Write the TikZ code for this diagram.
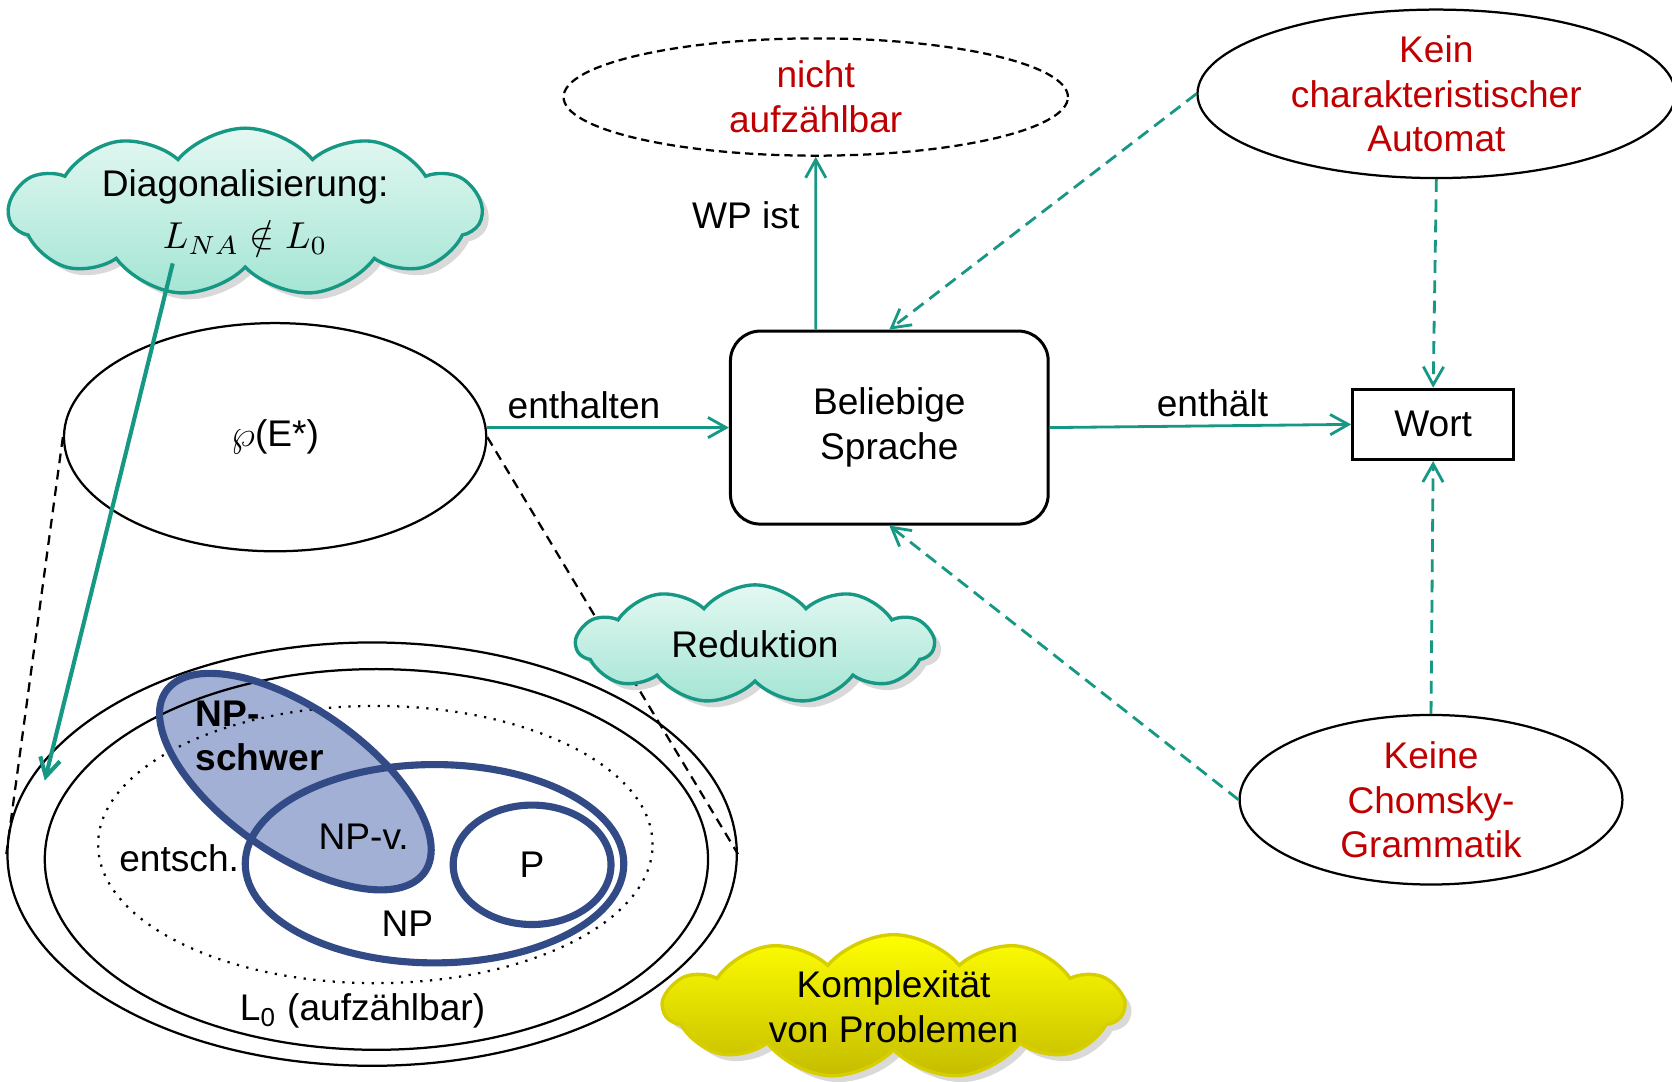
\documentclass[tikz,border=0pt]{standalone}
\usepackage[no-math]{fontspec}
\setmainfont{Liberation Sans}
\usetikzlibrary{arrows.meta,shapes.geometric,shapes.symbols,shadows}
\definecolor{tuerkis}{RGB}{22,152,132}
\definecolor{dunkelrot}{RGB}{192,0,0}
\definecolor{npblau}{RGB}{50,74,134}
\definecolor{npfuell}{RGB}{163,176,214}
\definecolor{wolkehell}{RGB}{228,248,242}
\definecolor{wolkedunkel}{RGB}{164,229,212}
\definecolor{gelbhell}{RGB}{255,255,0}
\definecolor{gelbdunkel}{RGB}{196,188,0}
\definecolor{gelbrand}{RGB}{214,206,0}
\newcommand{\schrift}{\fontsize{9.9}{11.9}\selectfont}

\begin{document}
\begin{tikzpicture}[x=1cm,y=-1cm,>={Straight Barb[length=1.7mm,width=1.9mm]},
	font=\schrift,
	pfeil/.style={->,color=tuerkis,line width=0.75pt},
	strichpfeil/.style={pfeil,dash pattern=on 3.4pt off 2pt},
	beschriftung/.style={text=black,inner sep=2pt},
	menge/.style={ellipse,draw,line width=0.6pt,inner sep=0pt},
	klasse/.style={ellipse,draw=npblau,line width=1.9pt,inner sep=0pt},
	kasten/.style={draw,line width=0.8pt,align=center,inner sep=0pt},
	wolke/.style={cloud,cloud puffs=11,cloud puff arc=100,cloud ignores aspect,draw=tuerkis,line width=0.9pt,
		top color=wolkehell,bottom color=wolkedunkel,align=center,inner sep=0pt,
		drop shadow={opacity=0.3,shadow xshift=0.6mm,shadow yshift=-0.6mm}},
	rot/.style={text=dunkelrot,align=center}]
	
	\useasboundingbox (0,0) rectangle (15.68,10.14);
	
	\node[menge,dash pattern=on 2.2pt off 1.3pt,rot,minimum width=4.73cm,minimum height=1.10cm] (nicht) at (7.65,0.91) {nicht\\aufzählbar};
	\node[menge,rot,minimum width=4.48cm,minimum height=1.58cm] (kein) at (13.47,0.88) {Kein\\charakteristischer\\Automat};
	\node[menge,rot,minimum width=3.59cm,minimum height=1.59cm] (keine) at (13.42,7.50) {Keine\\Chomsky-\\Grammatik};
	\node[kasten,rounded corners=0.28cm,minimum width=2.98cm,minimum height=1.81cm] (sprache) at (8.34,4.01) {Beliebige\\Sprache};
	\node[kasten,minimum width=1.51cm,minimum height=0.66cm] (wort) at (13.44,3.98) {Wort};
	\node[menge,minimum width=3.96cm,minimum height=2.14cm] (pot) at (2.58,4.10) {$\wp$(E*)};
	
	\node[ellipse,fill=npfuell,rotate=-35,minimum width=2.96cm,minimum height=1.36cm] (npsfuell) at (2.77,7.33) {};
	\node[menge,minimum width=6.84cm,minimum height=3.97cm] (aussen) at (3.49,8.01) {};
	\node[menge,minimum width=6.22cm,minimum height=3.57cm] (lnull) at (3.53,8.06) {};
	\node[menge,dotted,minimum width=5.20cm,minimum height=2.60cm] (entsch) at (3.52,7.92) {};
	\node[klasse,minimum width=3.55cm,minimum height=1.86cm] (np) at (4.075,8.10) {};
	\node[klasse,minimum width=1.48cm,minimum height=1.12cm] (p) at (4.99,8.11) {P};
	\node[klasse,rotate=-35,minimum width=2.96cm,minimum height=1.36cm] (nps) at (2.77,7.33) {};
	
	\node[anchor=west,align=left,font=\schrift\bfseries] (npstext) at (1.71,6.90) {NP-\\schwer};
	\node (npv) at (3.41,7.85) {NP-v.};
	\node (entschtext) at (1.68,8.05) {entsch.};
	\node (nptext) at (3.82,8.66) {NP};
	\node (lnulltext) at (3.40,9.48) {L\textsubscript{0} (aufzählbar)};
	
	\draw[dash pattern=on 2.6pt off 1.8pt,line width=0.6pt] (pot.west) -- (aussen.west);
	\draw[dash pattern=on 2.6pt off 1.8pt,line width=0.6pt] (pot.east) -- (aussen.east);
	
	\node[wolke,minimum width=4.43cm,minimum height=1.42cm] (diag) at (2.30,1.99) {Diagonalisierung:\\[2pt]$L_{NA}\notin L_0$};
	\node[wolke,minimum width=3.35cm,minimum height=1.11cm] (reduktion) at (7.08,6.04) {Reduktion};
	\node[wolke,draw=gelbrand,top color=gelbhell,bottom color=gelbdunkel,minimum width=4.31cm,minimum height=1.35cm] (komplex) at (8.38,9.44) {Komplexität\\von Problemen};
	
	\draw[pfeil] (pot.east |- sprache.west) -- node[pos=0.4,above,beschriftung] (enthalten) {enthalten} (sprache.west);
	\draw[pfeil] (sprache.east) -- node[pos=0.54,above,beschriftung] (enthaelt) {enthält} (wort.west);
	\draw[pfeil] ([xshift=-6.9mm]sprache.north) -- node[pos=0.66,left,beschriftung,inner sep=4pt] (wp) {WP ist} (nicht.south);
	\draw[strichpfeil] (kein.west) -- (sprache.north);
	\draw[strichpfeil] (kein.south) -- (wort.north);
	\draw[strichpfeil] (keine.north) -- (wort.south);
	\draw[strichpfeil] (keine.west) -- (sprache.south);
	\draw[pfeil,line width=1.1pt] ([xshift=-6.8mm,yshift=-4.8mm]diag.center) -- (0.42,7.32);
\end{tikzpicture}
\end{document}
